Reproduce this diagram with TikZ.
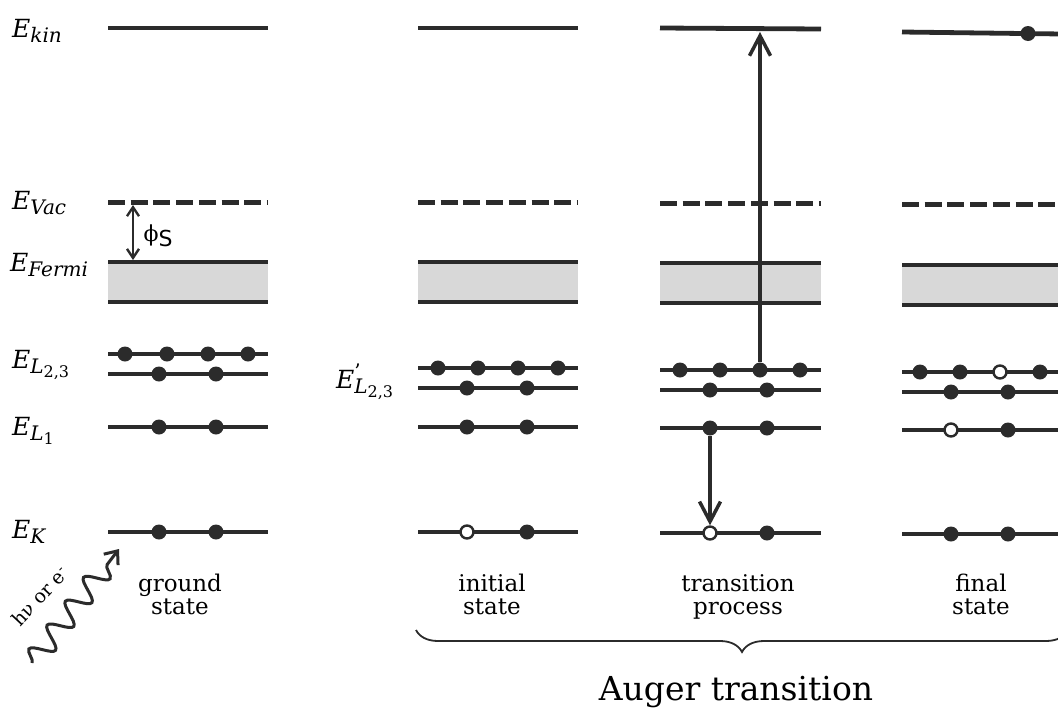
\documentclass[tikz,border=0pt]{standalone}
\usepackage{fontspec}
\setmainfont{DejaVu Serif}
\setsansfont{DejaVu Sans}
\usetikzlibrary{arrows.meta,decorations.pathmorphing,decorations.pathreplacing}
\definecolor{ink}{HTML}{2B2B2B}
\definecolor{band}{HTML}{D8D8D8}
\newcommand\Elev[1]{{\fontsize{25}{25}\selectfont\itshape E}\raisebox{-5pt}{\fontsize{20}{20}\selectfont\itshape #1}}
\newcommand\SubSub[2]{#1\raisebox{-4pt}{\fontsize{16}{16}\selectfont\upshape #2}}
\begin{document}
\begin{tikzpicture}[x=1pt,y=-1pt,
  lvl/.style={line width=4.8pt,draw=ink},
  vac/.style={line width=5pt,draw=ink,dash pattern=on 17pt off 5.7pt},
  el/.style={circle,fill=ink,inner sep=0pt,minimum size=15pt},
  hole/.style={circle,fill=white,draw=ink,line width=2.4pt,inner sep=0pt,minimum size=13pt},
  elab/.style={anchor=base west,inner sep=0pt},
  slab/.style={anchor=north,align=center,inner sep=0pt,font=\fontsize{23}{23}\selectfont},
  arr/.style={line width=3.5pt,draw=ink,-{Straight Barb[length=20pt,width=21pt,line width=3.5pt]}},
  phiarr/.style={line width=2.4pt,draw=ink,{Straight Barb[length=9pt,width=12pt,line width=2.4pt]}-{Straight Barb[length=9pt,width=12pt,line width=2.4pt]}},
  wave/.style={line width=3pt,draw=ink,-{Straight Barb[length=11pt,width=18pt,line width=3pt]},
    decorate,decoration={snake,segment length=30pt,amplitude=11pt,post length=12pt}},
  bracest/.style={line width=1.8pt,draw=ink,decorate,decoration={brace,mirror,amplitude=22pt}}]
\useasboundingbox (0,0) rectangle (1058,710);

% energy levels of the four columns
\foreach \xa/\xb/\yk/\ykb/\yv/\yf/\yu/\yl/\yo/\yK in {
  108/268/28/28/202/262/354/374/427/532,
  418/578/28/28/202/262/368/388/427/532,
  660/821/28/29/203/263/370/390/428/533,
  902/1062/32/34/204/265/372/392/430/534}{
  \fill[band] (\xa,\yf) rectangle (\xb,\yf+40);
  \draw[lvl] (\xa,\yk) -- (\xb,\ykb);
  \draw[vac] (\xa,\yv) -- (\xb,\yv);
  \draw[lvl] (\xa,\yf) -- (\xb,\yf);
  \draw[lvl] (\xa,\yf+40) -- (\xb,\yf+40);
  \draw[lvl] (\xa,\yu) -- (\xb,\yu);
  \draw[lvl] (\xa,\yl) -- (\xb,\yl);
  \draw[lvl] (\xa,\yo) -- (\xb,\yo);
  \draw[lvl] (\xa,\yK) -- (\xb,\yK);
}

% ground state electrons
\foreach \n/\x in {1/125,2/167,3/208,4/248} \node[el] (g-u\n) at (\x,354) {};
\foreach \n/\x in {1/159,2/216} {
  \node[el] (g-l\n) at (\x,374) {};
  \node[el] (g-o\n) at (\x,427) {};
  \node[el] (g-k\n) at (\x,532) {};
}
% initial state
\foreach \n/\x in {1/438,2/478,3/518,4/558} \node[el] (i-u\n) at (\x,368) {};
\foreach \n/\x in {1/467,2/527} {
  \node[el] (i-l\n) at (\x,388) {};
  \node[el] (i-o\n) at (\x,427) {};
}
\node[hole] (i-k1) at (467,532) {};
\node[el] (i-k2) at (527,532) {};
% transition process
\foreach \n/\x in {1/680,2/720,3/760,4/800} \node[el] (t-u\n) at (\x,370) {};
\foreach \n/\x in {1/710,2/767} {
  \node[el] (t-l\n) at (\x,390) {};
  \node[el] (t-o\n) at (\x,428) {};
}
\node[hole] (t-k1) at (710,533) {};
\node[el] (t-k2) at (767,533) {};
% final state
\node[el] (f-u1) at (920,372) {};
\node[el] (f-u2) at (960,372) {};
\node[hole] (f-u3) at (1000,372) {};
\node[el] (f-u4) at (1040,372) {};
\node[el] (f-l1) at (951,392) {};
\node[el] (f-l2) at (1008,392) {};
\node[hole] (f-o1) at (951,430) {};
\node[el] (f-o2) at (1008,430) {};
\node[el] (f-k1) at (951,534) {};
\node[el] (f-k2) at (1008,534) {};
\node[el] (f-kin) at (1028,33.5) {};

% arrows
\coordinate (t-kin) at (760,32);
\draw[arr] (t-u3.north) -- (t-kin);
\draw[arr] (t-o1.south) -- (t-k1.north);
\coordinate (phitop) at (133,205);
\coordinate (phibot) at (133,260);
\draw[phiarr] (phitop) -- (phibot);
\node[inner sep=0pt,font=\fontsize{22}{22}\selectfont] (phil) at (158,236) {ϕ\raisebox{-5pt}{\sffamily S}};

% level labels
\node[elab] (lkin) at (12,37) {\Elev{kin}};
\node[elab] (lvac) at (12,209) {\Elev{Vac}};
\node[elab] (lfermi) at (10,271) {\Elev{Fermi}};
\node[elab] (ll23) at (12,368) {\Elev{\SubSub{L}{2,3}}};
\node[elab] (ll1) at (12,435) {\Elev{\SubSub{L}{1}}};
\node[elab] (lk) at (12,538) {\Elev{K}};
\node[elab] (ll23p) at (336,388) {{\fontsize{25}{25}\selectfont\itshape E}\makebox[0pt][l]{\raisebox{10pt}{\fontsize{20}{20}\selectfont ’}}\raisebox{-5pt}{\fontsize{20}{20}\selectfont\itshape\SubSub{L}{2,3}}};

% excitation
\coordinate (wstart) at (32,663);
\coordinate (wend) at (119,549);
\draw[wave] (wstart) -- (wend);
\node[rotate=47,inner sep=0pt,font=\fontsize{19}{19}\selectfont] (wlab) at (40,596) {hν or e\textsuperscript{-}};

% state captions
\node[slab] (cg) at (180,574) {ground\\state};
\node[slab] (ci) at (492,574) {initial\\state};
\node[slab] (ct) at (738,574) {transition\\process};
\node[slab] (cf) at (981,574) {final\\state};

% brace and title
\coordinate (b1) at (416,630);
\coordinate (b2) at (1068,630);
\draw[bracest] (b1) -- (b2);
\node[anchor=base,inner sep=0pt,font=\fontsize{33}{33}\selectfont] (auger) at (736,700) {Auger transition};
\end{tikzpicture}
\end{document}
